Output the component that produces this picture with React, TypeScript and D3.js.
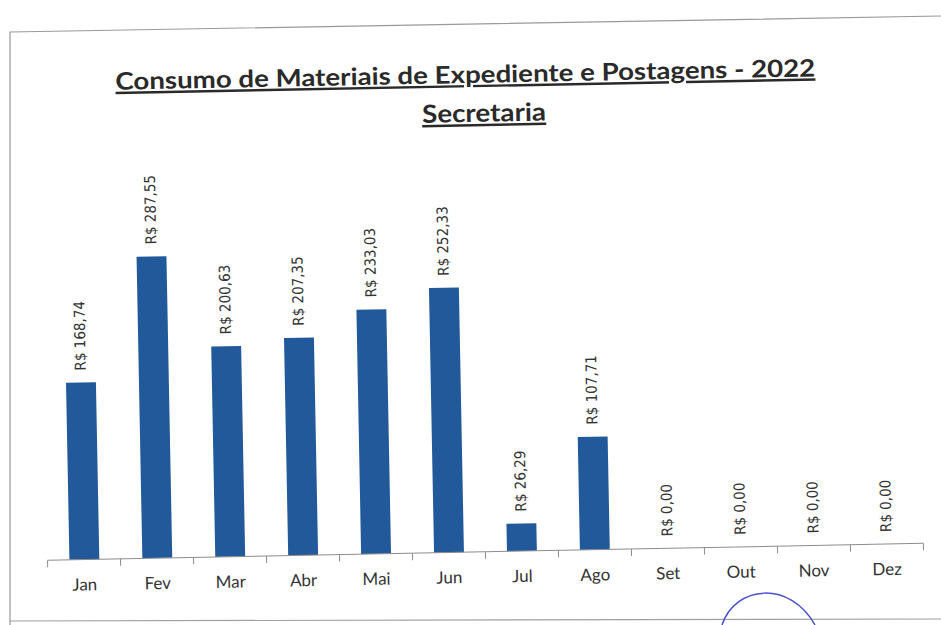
import React, { useEffect, useRef } from "react";
import * as d3 from "d3";

// values
const months = ["Jan", "Fev", "Mar", "Abr", "Mai", "Jun", "Jul", "Ago", "Set", "Out", "Nov", "Dez"];
const values = [168.74, 287.55, 200.63, 207.35, 233.03, 252.33, 26.29, 107.71, 0, 0, 0, 0];

const title = "Consumo de Materiais de Expediente e Postagens - 2022";
const subtitle = "Secretaria";

const W = 941;
const H = 625;

const fmt = (v: number) => "R$ " + v.toFixed(2).replace(".", ",");

const App: React.FC = () => {
  const svgRef = useRef<SVGSVGElement | null>(null);

  useEffect(() => {
    document.body.style.margin = "0";
    if (!svgRef.current) return;
    const svg = d3.select(svgRef.current);
    svg.selectAll("*").remove();

    const left = 43;
    const right = 919;
    const baseY = 552;

    const x = d3.scaleBand<string>().domain(months).range([left, right]).paddingInner(0.59).paddingOuter(0.3);
    const y = d3.scaleLinear().domain([0, 300]).range([baseY, baseY - 314.7]);

    svg.append("rect").attr("width", W).attr("height", H).attr("fill", "#ffffff");

    // scanned page frame
    svg.append("path")
      .attr("d", `M10,${H} L10,32 L${W},16`)
      .attr("fill", "none")
      .attr("stroke", "#9a9a9a")
      .attr("stroke-width", 1.2);
    svg.append("line")
      .attr("x1", 10).attr("x2", W)
      .attr("y1", 621).attr("y2", 619)
      .attr("stroke", "#a0a0a0")
      .attr("stroke-width", 1.2);

    // the scan is slightly tilted
    const g = svg.append("g").attr("transform", "rotate(-1.1, 470, 320)");

    // titles
    const tg = g.append("g").attr("font-family", "Lato, 'Open Sans', sans-serif").attr("font-weight", "bold").attr("fill", "#2a2a2a");
    tg.append("text")
      .attr("x", 470).attr("y", 83)
      .attr("text-anchor", "middle")
      .attr("font-size", 24)
      .attr("text-decoration", "underline")
      .attr("textLength", 700)
      .attr("lengthAdjust", "spacingAndGlyphs")
      .text(title);
    tg.append("text")
      .attr("x", 488).attr("y", 122)
      .attr("text-anchor", "middle")
      .attr("font-size", 25)
      .attr("text-decoration", "underline")
      .attr("textLength", 124)
      .attr("lengthAdjust", "spacingAndGlyphs")
      .text(subtitle);

    // bars
    g.append("g")
      .selectAll("rect")
      .data(values)
      .join("rect")
      .attr("x", (_, i) => x(months[i])!)
      .attr("width", x.bandwidth())
      .attr("y", (d) => y(d))
      .attr("height", (d) => baseY - y(d))
      .attr("fill", "#22599a");

    // value labels (rotated)
    g.append("g")
      .attr("font-family", "'DejaVu Sans Condensed', 'DejaVu Sans', sans-serif")
      .attr("font-size", 15)
      .attr("fill", "#333")
      .selectAll("text")
      .data(values)
      .join("text")
      .attr("transform", (d, i) => `translate(${x(months[i])! + x.bandwidth() / 2 + 5},${y(d) - 12}) rotate(-90)`)
      .text((d) => fmt(d));

    // axis
    const ax = g.append("g").attr("stroke", "#8c8c8c").attr("stroke-width", 1);
    ax.append("line").attr("x1", left).attr("x2", right).attr("y1", baseY).attr("y2", baseY);
    const step = (right - left) / months.length;
    ax.selectAll("line.tick")
      .data(d3.range(months.length + 1))
      .join("line")
      .attr("class", "tick")
      .attr("x1", (i) => left + i * step)
      .attr("x2", (i) => left + i * step)
      .attr("y1", baseY)
      .attr("y2", baseY + 7);

    g.append("g")
      .attr("font-family", "Lato, 'Open Sans', sans-serif")
      .attr("font-size", 17)
      .attr("fill", "#333")
      .attr("text-anchor", "middle")
      .selectAll("text")
      .data(months)
      .join("text")
      .attr("x", (m) => x(m)! + x.bandwidth() / 2)
      .attr("y", baseY + 31)
      .text((m) => m);

    // pen mark near the bottom
    svg.append("path")
      .attr("d", "M722,625 C735,585 790,580 815,625")
      .attr("fill", "none")
      .attr("stroke", "#4a4fd0")
      .attr("stroke-width", 1.5);
  }, []);

  return <svg ref={svgRef} width={W} height={H} style={{ display: "block" }}></svg>;
};

export default App;
